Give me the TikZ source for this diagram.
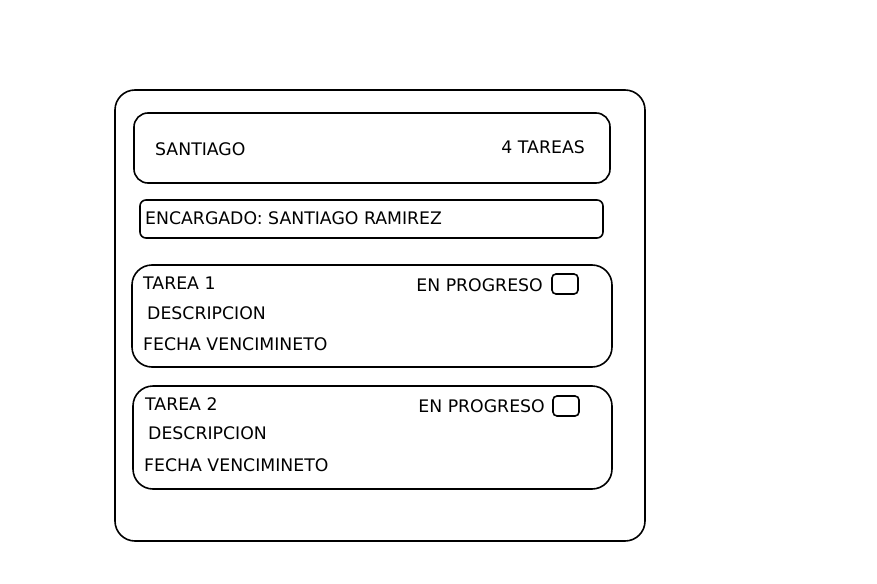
\documentclass[tikz,border=0pt]{standalone}
\usepackage{fontspec}
\setmainfont{DejaVu Sans}
\usepackage{tikz}
\usetikzlibrary{shapes}

\begin{document}
\begin{tikzpicture}[x=1pt,y=-1pt,
  box/.style={draw,line width=1.6pt,rounded corners=#1,inner sep=0pt},
  lbl/.style={inner sep=0pt,font=\fontsize{17.3}{20}\selectfont}]
\useasboundingbox (0,0) rectangle (877,583);
\node[box=20pt,minimum width=530pt,minimum height=451pt] (frame) at (380,315.5) {};
\node[box=14pt,minimum width=476pt,minimum height=70pt] (head) at (372,148) {};
\node[box=6pt,minimum width=463pt,minimum height=38pt] (boss) at (371.5,219) {};
\node[box=20pt,minimum width=480pt,minimum height=102pt] (task1) at (372,316) {};
\node[box=20pt,minimum width=479pt,minimum height=103pt] (task2) at (372.5,437.5) {};
\node[box=4pt,minimum width=26pt,minimum height=20pt] (chk1) at (565,284) {};
\node[box=4pt,minimum width=26pt,minimum height=20pt] (chk2) at (566,406) {};
\node[lbl,anchor=west] (name) at (155,149) {SANTIAGO};
\node[lbl,anchor=east] (count) at (585,147) {4 TAREAS};
\node[lbl,anchor=west] (owner) at (145,218) {ENCARGADO: SANTIAGO RAMIREZ};
\node[lbl,anchor=west] (t1) at (143,283) {TAREA 1};
\node[lbl,anchor=east] (s1) at (543,285) {EN PROGRESO};
\node[lbl,anchor=west] (d1) at (147,313) {DESCRIPCION};
\node[lbl,anchor=west] (f1) at (143,344) {FECHA VENCIMINETO};
\node[lbl,anchor=west] (t2) at (145,404) {TAREA 2};
\node[lbl,anchor=east] (s2) at (545,406) {EN PROGRESO};
\node[lbl,anchor=west] (d2) at (148,433) {DESCRIPCION};
\node[lbl,anchor=west] (f2) at (144,465) {FECHA VENCIMINETO};
\end{tikzpicture}
\end{document}
